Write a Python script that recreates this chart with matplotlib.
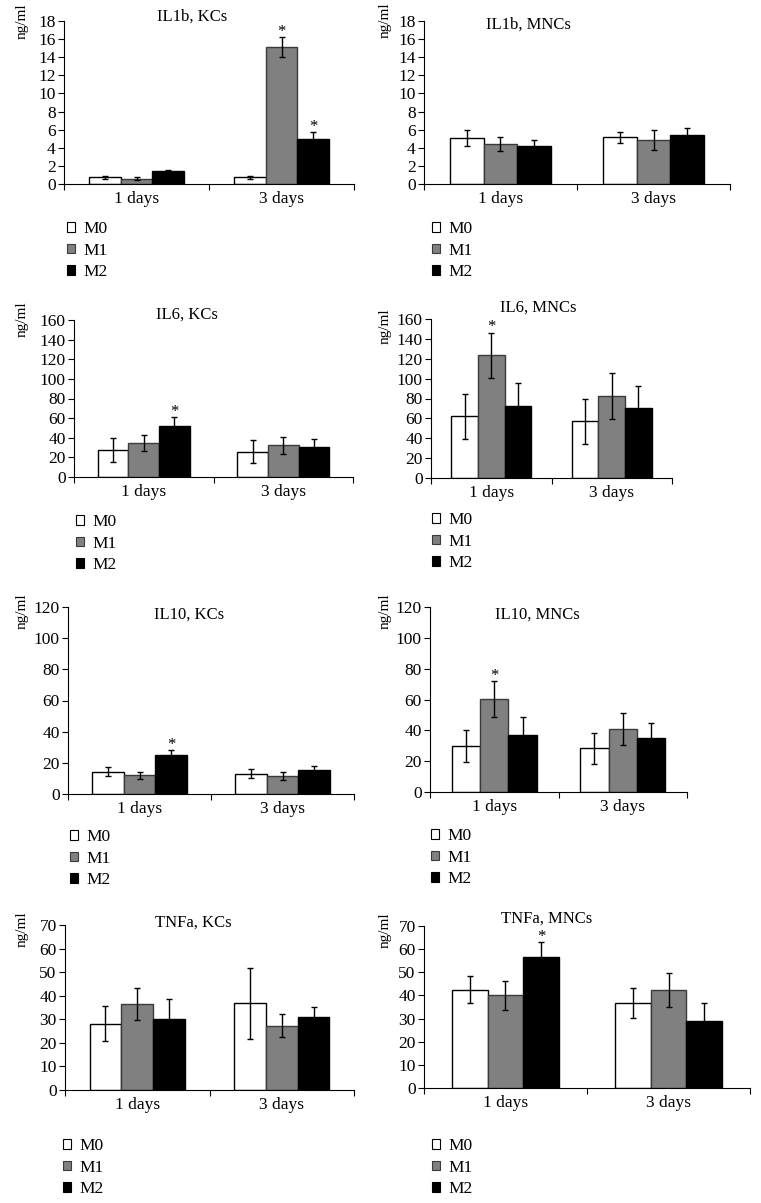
import numpy as np
import matplotlib.pyplot as plt
from matplotlib.patches import Patch

plt.rcParams['font.family'] = ['Liberation Serif', 'DejaVu Serif']
plt.rcParams['font.size'] = 12.5

W, H = 761, 1203

# --- Data (rows: M0, M1, M2; columns: 1 days, 3 days) ---
days = ['1 days', '3 days']
series = ['M0', 'M1', 'M2']

il1b_kcs_vals = [[0.73, 0.73], [0.59, 15.1], [1.43, 5.0]]
il1b_kcs_err = [[0.2, 0.2], [0.2, 1.1], [0.17, 0.7]]
il1b_kcs_stars = [(1, 1), (2, 1)]

il1b_mncs_vals = [[5.05, 5.15], [4.42, 4.86], [4.16, 5.45]]
il1b_mncs_err = [[0.9, 0.6], [0.8, 1.1], [0.7, 0.7]]
il1b_mncs_stars = []

il6_kcs_vals = [[27.5, 25.8], [35.0, 32.3], [52.0, 30.6]]
il6_kcs_err = [[12.0, 12.0], [8.0, 8.5], [9.0, 8.0]]
il6_kcs_stars = [(2, 0)]

il6_mncs_vals = [[62.0, 57.0], [123.3, 82.5], [72.8, 70.0]]
il6_mncs_err = [[23.0, 23.0], [23.0, 23.0], [23.0, 23.0]]
il6_mncs_stars = [(1, 0)]

il10_kcs_vals = [[14.3, 13.0], [12.0, 11.3], [25.2, 15.2]]
il10_kcs_err = [[2.8, 3.0], [2.3, 2.5], [2.8, 3.0]]
il10_kcs_stars = [(2, 0)]

il10_mncs_vals = [[30.0, 28.3], [60.3, 41.0], [37.2, 35.0]]
il10_mncs_err = [[10.5, 10.0], [11.5, 10.5], [11.5, 10.0]]
il10_mncs_stars = [(1, 0)]

tnfa_kcs_vals = [[28.1, 36.7], [36.3, 27.3], [30.1, 31.1]]
tnfa_kcs_err = [[7.4, 15.0], [6.8, 4.8], [8.5, 4.3]]
tnfa_kcs_stars = []

tnfa_mncs_vals = [[42.5, 36.9], [40.1, 42.4], [56.6, 28.9]]
tnfa_mncs_err = [[5.8, 6.5], [6.3, 7.2], [6.3, 8.0]]
tnfa_mncs_stars = [(2, 0)]

# --- Styling ---
face = ['#ffffff', '#808080', '#000000']
edge = ['#000000', '#3a3a3a', '#000000']
bar_w = 0.22

# panel: title, values, errors, stars, ymax, ystep,
#        axes box (px: x0, x1, ytop, ybottom), title pos, ylabel pos, legend pos
panels = [
    ("IL1b, KCs", il1b_kcs_vals, il1b_kcs_err, il1b_kcs_stars, 18, 2,
     (64, 354, 21, 184), (192, 17), (22, 21), (67, 221)),
    ("IL1b, MNCs", il1b_mncs_vals, il1b_mncs_err, il1b_mncs_stars, 18, 2,
     (424, 730, 21, 184), (528, 25), (385, 20), (432, 221)),
    ("IL6, KCs", il6_kcs_vals, il6_kcs_err, il6_kcs_stars, 160, 20,
     (74, 353, 320, 477), (187, 315), (22, 319), (76, 514)),
    ("IL6, MNCs", il6_mncs_vals, il6_mncs_err, il6_mncs_stars, 160, 20,
     (431, 672, 319, 478), (538, 308), (385, 326), (432, 512)),
    ("IL10, KCs", il10_kcs_vals, il10_kcs_err, il10_kcs_stars, 120, 20,
     (68, 354, 607, 794), (189, 615), (22, 611), (70, 829)),
    ("IL10, MNCs", il10_mncs_vals, il10_mncs_err, il10_mncs_stars, 120, 20,
     (430, 687, 607, 792), (537, 615), (385, 611), (431, 828)),
    ("TNFa, KCs", tnfa_kcs_vals, tnfa_kcs_err, tnfa_kcs_stars, 70, 10,
     (65, 354, 925, 1090), (193, 923), (22, 929), (63, 1138)),
    ("TNFa, MNCs", tnfa_mncs_vals, tnfa_mncs_err, tnfa_mncs_stars, 70, 10,
     (424, 750, 926, 1088), (547, 919), (385, 930), (432, 1138)),
]

fig = plt.figure(figsize=(W / 100, H / 100), dpi=100)

x = np.arange(len(days))
offsets = [-bar_w, 0, bar_w]

for (title, vals, errs, stars, ymax, ystep, box, tpos, ypos, lpos) in panels:
    x0, x1, yt, yb = box
    ax = fig.add_axes([x0 / W, 1 - yb / H, (x1 - x0) / W, (yb - yt) / H])

    for i in range(3):
        ax.bar(x + offsets[i], vals[i], bar_w, color=face[i], edgecolor=edge[i],
               linewidth=1.0, zorder=2)
        ax.errorbar(x + offsets[i], vals[i], yerr=errs[i], fmt='none',
                    ecolor='black', elinewidth=1.0, capsize=2, capthick=1.0, zorder=3)

    for (s, c) in stars:
        ax.annotate('*', (x[c] + offsets[s], vals[s][c] + errs[s][c]),
                    xytext=(0, -2), textcoords='offset points',
                    ha='center', va='bottom', fontsize=12)

    ax.set_xlim(-0.5, 1.5)
    ax.set_ylim(0, ymax)
    ax.set_yticks(np.arange(0, ymax + 1, ystep))
    ax.set_xticks(x)
    ax.set_xticklabels(days)
    ax.set_xticks([-0.5, 0.5, 1.5], minor=True)
    ax.tick_params(axis='x', which='major', length=0, pad=5)
    ax.tick_params(axis='x', which='minor', length=4, direction='out', width=0.8)
    ax.tick_params(axis='y', length=4, direction='out', width=0.8, pad=2)
    for sp in ['top', 'right']:
        ax.spines[sp].set_visible(False)
    for sp in ['left', 'bottom']:
        ax.spines[sp].set_linewidth(0.8)

    fig.text(tpos[0] / W, 1 - tpos[1] / H, title, ha='center', va='center',
             fontsize=12)
    fig.text(ypos[0] / W, 1 - ypos[1] / H, 'ng/ml', rotation=90,
             ha='center', va='center', fontsize=11)

    handles = [Patch(facecolor=face[i], edgecolor=edge[i], linewidth=0.8)
               for i in range(3)]
    fig.legend(handles, series, loc='upper left',
               bbox_to_anchor=(lpos[0] / W, 1 - lpos[1] / H),
               frameon=False, borderpad=0, borderaxespad=0,
               handlelength=0.47, handleheight=0.47, handletextpad=0.45,
               labelspacing=0.32)

plt.savefig('out.png', dpi=100)
